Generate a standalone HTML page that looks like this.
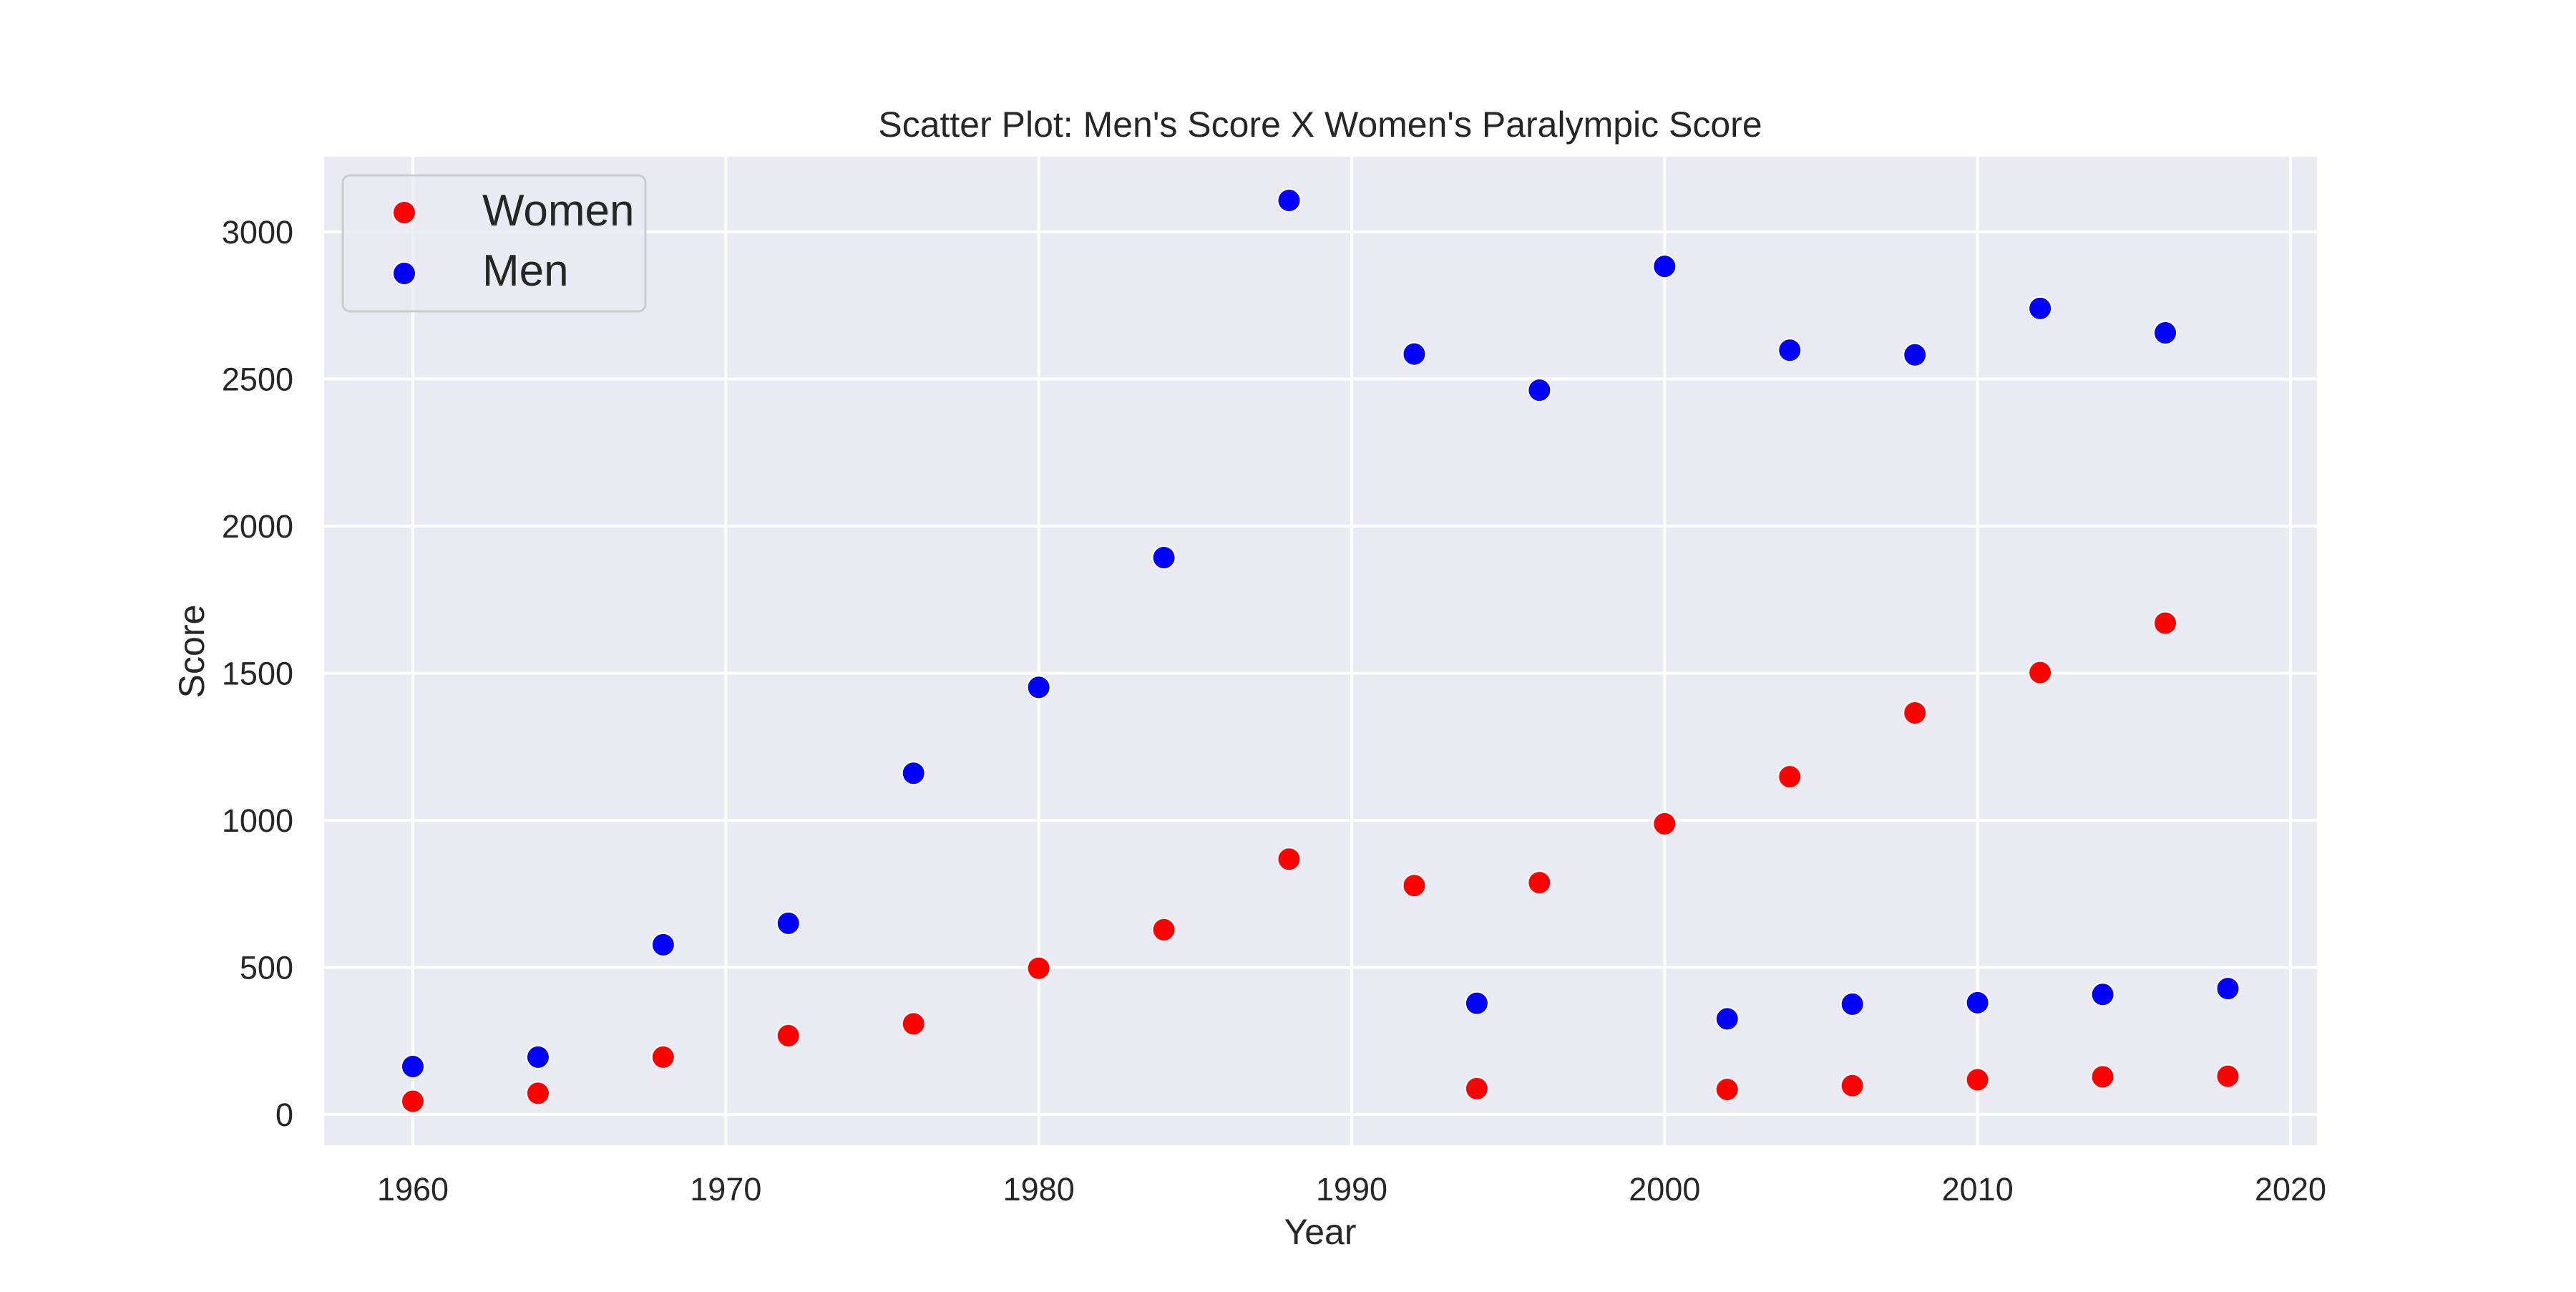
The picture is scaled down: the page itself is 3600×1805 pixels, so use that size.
<!DOCTYPE html>
<html><head><meta charset="utf-8"><style>
body{margin:0;background:#fff}
svg text{font-family:"Liberation Sans",Arial,sans-serif;fill:#262626}
</style></head><body>
<svg id="c" width="3600" height="1800" xmlns="http://www.w3.org/2000/svg">
<rect x="453" y="219" width="2785" height="1381" fill="#eaeaf2"/>
<g id="grid"></g><g id="pts"></g><g id="ticks"></g>
<text x="1845" y="191" font-size="50" text-anchor="middle">Scatter Plot: Men's Score X Women's Paralympic Score</text>
<text x="1845" y="1738" font-size="50" text-anchor="middle">Year</text>
<text x="0" y="0" font-size="50" text-anchor="middle" transform="translate(285,910) rotate(-90)">Score</text>
<g>
<rect x="479" y="245" width="423" height="190" rx="10" fill="#eaeaf2" fill-opacity="0.8" stroke="#cccccc" stroke-width="3"/>
<circle cx="565" cy="297" r="16" fill="#ff0000" stroke="#fff" stroke-width="2"/>
<text x="674" y="315" font-size="62">Women</text>
<circle cx="565" cy="382" r="16" fill="#0000ff" stroke="#fff" stroke-width="2"/>
<text x="674" y="399" font-size="62">Men</text>
</g>
</svg>
<script>
const years=[1960,1964,1968,1972,1976,1980,1984,1988,1992,1994,1996,2000,2002,2004,2006,2008,2010,2012,2014,2016,2018];
const women=[45,72,195,268,308,497,628,868,778,88,788,988,85,1148,98,1365,118,1502,128,1670,130];
const men=[163,195,577,650,1160,1452,1893,3107,2585,378,2462,2883,325,2598,375,2582,380,2740,408,2657,428];
const xTicks=[1960,1970,1980,1990,2000,2010,2020];
const yTicks=[0,500,1000,1500,2000,2500,3000];
const NS="http://www.w3.org/2000/svg";
const X=v=>577+(v-1960)*(3201-577)/60;
const Y=v=>1557-v*(1557-324)/3000;
function mk(t,a,p){const e=document.createElementNS(NS,t);for(const k in a)e.setAttribute(k,a[k]);p.appendChild(e);return e;}
const g=document.getElementById('grid'),tk=document.getElementById('ticks'),pts=document.getElementById('pts');
xTicks.forEach(v=>{const l=mk('line',{x1:X(v),x2:X(v),y1:219,y2:1600,stroke:'#fff','stroke-width':4},g);


const t=mk('text',{x:X(v),y:1677,'font-size':45,'text-anchor':'middle'},tk);t.textContent=v;

});
yTicks.forEach(v=>{const l=mk('line',{x1:453,x2:3238,y1:Y(v),y2:Y(v),stroke:'#fff','stroke-width':4},g);


const t=mk('text',{x:410,y:Y(v)+16,'font-size':45,'text-anchor':'end'},tk);t.textContent=v;

});
years.forEach((y,i)=>{const c=mk('circle',{cx:X(y),cy:Y(women[i]),r:16,fill:'#ff0000',stroke:'#fff','stroke-width':2},pts);

});
years.forEach((y,i)=>{const c=mk('circle',{cx:X(y),cy:Y(men[i]),r:16,fill:'#0000ff',stroke:'#fff','stroke-width':2},pts);

});
</script>
</body></html>
